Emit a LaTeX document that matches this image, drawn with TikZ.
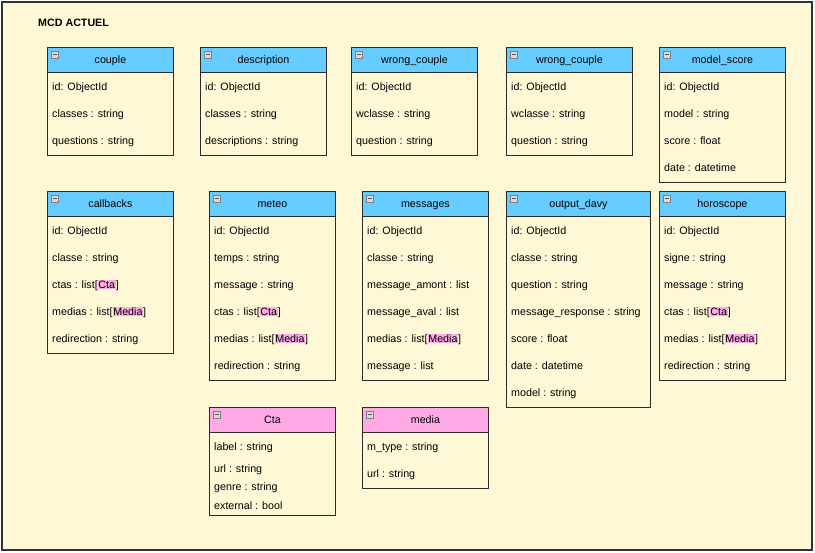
\documentclass[tikz,border=0pt]{standalone}
\usepackage{fontspec}
\setmainfont{Liberation Sans}
\usepackage{xcolor}
\usepackage{tikz}

\definecolor{framefill}{HTML}{FFF8D7}
\definecolor{headblue}{HTML}{66CCFF}
\definecolor{headpink}{HTML}{FFAAE6}
\definecolor{boxline}{HTML}{2B2B2B}

\tikzset{
  mcdline/.style={draw=boxline, line width=0.9},
  mcdhead/.style={mcdline, anchor=north west, minimum height=25, inner sep=0, text height=10.4, text depth=2.4},
  mcdfield/.style={anchor=west, inner sep=0, text height=8, text depth=2.4},
}

% highlighted type name
\newcommand{\hlref}[1]{{\setlength{\fboxsep}{0.7pt}\colorbox{headpink}{#1}}}
% table: name, x, y, width, height, header colour, title
\newcommand{\mcdtable}[7]{%
  \draw[mcdline, fill=framefill] (#2,#3) rectangle ++(#4,#5);
  \node[mcdhead, fill=#6, minimum width=#4] (#1) at (#2,#3) {#7};
  \draw[draw=gray, fill=gray!30, line width=0.5] (#2+4,#3+4) rectangle ++(7,7);
  \draw[black!65, line width=0.9] (#2+5.5,#3+7.5) -- ++(4,0);
}
% fields: name, x, y, list
\newcommand{\mcdfields}[4]{%
  \foreach \txt [count=\i] in {#4}
    \node[mcdfield] (#1-\i) at (#2+5,#3+13.5+27*\i) {\txt};
}

\begin{document}
\begin{tikzpicture}[x=1pt, y=-1pt, font=\fontsize{10.7}{13}\selectfont]
\useasboundingbox (0,0) rectangle (815,553);
\draw[line width=1.6, draw=black!80, fill=framefill] (2,2) rectangle (812,550);
\node[anchor=west, inner sep=0, font=\fontsize{10.7}{13}\selectfont\bfseries] (title) at (38,23) {MCD ACTUEL};

% first row
\mcdtable{couple}{47}{47}{126}{108}{headblue}{couple}
\mcdfields{couple}{47}{47}{id: ObjectId, classes : string, questions : string}
\mcdtable{description}{200}{47}{126}{108}{headblue}{description}
\mcdfields{description}{200}{47}{id: ObjectId, classes : string, descriptions : string}
\mcdtable{wrongA}{351}{47}{126}{108}{headblue}{wrong\_couple}
\mcdfields{wrongA}{351}{47}{id: ObjectId, wclasse : string, question : string}
\mcdtable{wrongB}{506}{47}{126}{108}{headblue}{wrong\_couple}
\mcdfields{wrongB}{506}{47}{id: ObjectId, wclasse : string, question : string}
\mcdtable{modelscore}{659}{47}{126}{135}{headblue}{model\_score}
\mcdfields{modelscore}{659}{47}{id: ObjectId, model : string, score : float, date : datetime}

% second row
\mcdtable{callbacks}{47}{191}{126}{162}{headblue}{callbacks}
\mcdfields{callbacks}{47}{191}{id: ObjectId, classe : string, ctas : list[\hlref{Cta}], medias : list[\hlref{Media}], redirection : string}
\mcdtable{meteo}{209}{191}{126}{189}{headblue}{meteo}
\mcdfields{meteo}{209}{191}{id: ObjectId, temps : string, message : string, ctas : list[\hlref{Cta}], medias : list[\hlref{Media}], redirection : string}
\mcdtable{messages}{362}{191}{126}{189}{headblue}{messages}
\mcdfields{messages}{362}{191}{id: ObjectId, classe : string, message\_amont : list, message\_aval : list, medias : list[\hlref{Media}], message : list}
\mcdtable{outputdavy}{506}{191}{144}{216}{headblue}{output\_davy}
\mcdfields{outputdavy}{506}{191}{id: ObjectId, classe : string, question : string, message\_response : string, score : float, date : datetime, model : string}
\mcdtable{horoscope}{659}{191}{126}{189}{headblue}{horoscope}
\mcdfields{horoscope}{659}{191}{id: ObjectId, signe : string, message : string, ctas : list[\hlref{Cta}], medias : list[\hlref{Media}], redirection : string}

% third row
\mcdtable{cta}{209}{407}{126}{108}{headpink}{Cta}
\node[mcdfield] (cta-1) at (214,447.5) {label : string};
\node[mcdfield] (cta-2) at (214,469.5) {url : string};
\node[mcdfield] (cta-3) at (214,487.5) {genre : string};
\node[mcdfield] (cta-4) at (214,506.5) {external : bool};
\mcdtable{media}{362}{407}{126}{81}{headpink}{media}
\mcdfields{media}{362}{407}{m\_type : string, url : string}
\end{tikzpicture}
\end{document}
